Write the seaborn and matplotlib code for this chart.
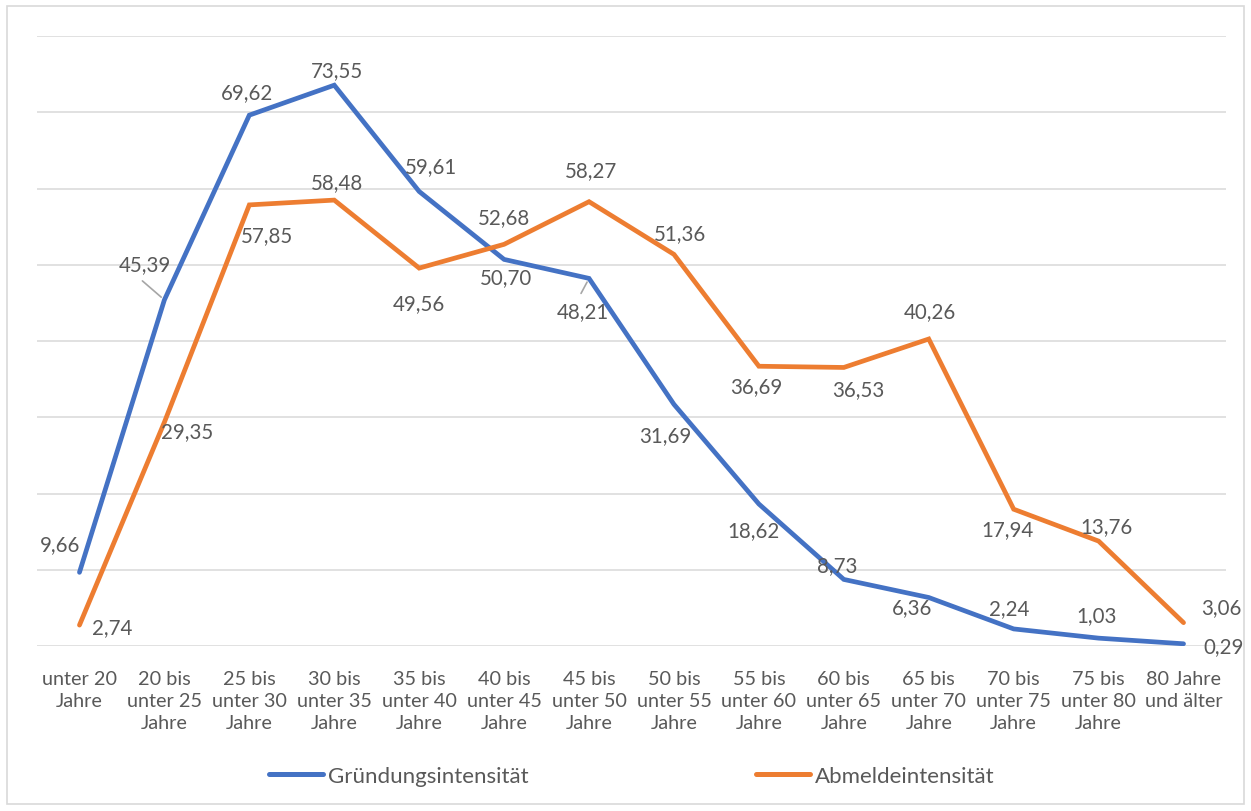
import matplotlib
matplotlib.use("Agg")
import matplotlib.pyplot as plt
import seaborn as sns
import pandas as pd
from matplotlib.patches import Rectangle
from matplotlib.lines import Line2D

categories = ["unter 20\nJahre", "20 bis\nunter 25\nJahre", "25 bis\nunter 30\nJahre",
              "30 bis\nunter 35\nJahre", "35 bis\nunter 40\nJahre", "40 bis\nunter 45\nJahre",
              "45 bis\nunter 50\nJahre", "50 bis\nunter 55\nJahre", "55 bis\nunter 60\nJahre",
              "60 bis\nunter 65\nJahre", "65 bis\nunter 70\nJahre", "70 bis\nunter 75\nJahre",
              "75 bis\nunter 80\nJahre", "80 Jahre\nund älter"]
gruendung = [9.66, 45.39, 69.62, 73.55, 59.61, 50.70, 48.21, 31.69, 18.62, 8.73, 6.36, 2.24, 1.03, 0.29]
abmelde = [2.74, 29.35, 57.85, 58.48, 49.56, 52.68, 58.27, 51.36, 36.69, 36.53, 40.26, 17.94, 13.76, 3.06]
series_names = ["Gründungsintensität", "Abmeldeintensität"]
colors = ["#4472C4", "#ED7D31"]

# label offsets in pixels (dx, dy)
off_g = [(-19, 28), (-20, 36), (-2, 23), (3, 15), (12, 25), (2, -18), (-6, -33), (-9, -31),
         (-5, -26), (-7, 14), (-17, -10), (-4, 21), (-2, 23), (40, -2)]
off_a = [(33, -2), (23, -9), (18, -30), (3, 18), (0, -35), (0, 27), (2, 32), (6, 21),
         (-3, -20), (14, -22), (1, 28), (-6, -20), (8, 15), (38, 16)]

sns.set_style("white")
plt.rcParams['font.family'] = ['Lato', 'DejaVu Sans']

df = pd.DataFrame({
    "x": list(range(len(categories))) * 2,
    "value": gruendung + abmelde,
    "series": [series_names[0]] * len(categories) + [series_names[1]] * len(categories),
})

fig = plt.figure(figsize=(12.51, 8.12), dpi=100)
W, H = 1251, 812
ax = fig.add_axes([37 / W, (H - 647) / H, (1226 - 37) / W, (647 - 37) / H])

sns.lineplot(data=df, x="x", y="value", hue="series", palette=colors, ax=ax,
             linewidth=3.4, legend=False, sort=False)
for l in ax.lines:
    l.set_solid_joinstyle("miter")

ax.set_xlim(-0.5, len(categories) - 0.5)
ax.set_ylim(0, 80)
ax.set_yticks(range(0, 81, 10))
ax.set_yticklabels([])
ax.yaxis.grid(True, color="#D9D9D9", linewidth=1.1)
ax.set_axisbelow(True)
for s in ax.spines.values():
    s.set_visible(False)
ax.set_xticks(range(len(categories)))
ax.set_xticklabels(categories, fontsize=14.3, color="#595959", linespacing=1.38)
ax.tick_params(axis="x", length=0, pad=17)
ax.tick_params(axis="y", length=0)
ax.set_xlabel("")
ax.set_ylabel("")

for si, (vals, offs) in enumerate([(gruendung, off_g), (abmelde, off_a)]):
    for i, (v, o) in enumerate(zip(vals, offs)):
        txt = f"{v:.2f}".replace(".", ",")
        ax.annotate(txt, xy=(i, v), xytext=o, textcoords="offset pixels",
                    ha="center", va="center", fontsize=14.8, color="#595959")

# leader lines
ax.annotate("", xy=(1, gruendung[1]), xytext=(-22, 19), textcoords="offset pixels",
            arrowprops=dict(arrowstyle="-", color="#A6A6A6", lw=1.2, shrinkA=0, shrinkB=3))
ax.annotate("", xy=(6, gruendung[6]), xytext=(-8, -15), textcoords="offset pixels",
            arrowprops=dict(arrowstyle="-", color="#A6A6A6", lw=1.2, shrinkA=0, shrinkB=3))

handles = [Line2D([], [], color=c, linewidth=3.6, solid_capstyle="round") for c in colors]
leg = fig.legend(handles, series_names, loc="center", bbox_to_anchor=(0.505, 35 / H),
                 ncol=2, frameon=False, fontsize=16, handlelength=2.45, handletextpad=0.22,
                 columnspacing=10.2)
for t in leg.get_texts():
    t.set_color("#595959")

fig.patches.append(Rectangle((7 / W, 7 / H), (W - 14) / W, (H - 14) / H, transform=fig.transFigure,
                             fill=False, edgecolor="#D9D9D9", linewidth=1.2))

fig.savefig("out.png", dpi=100)
